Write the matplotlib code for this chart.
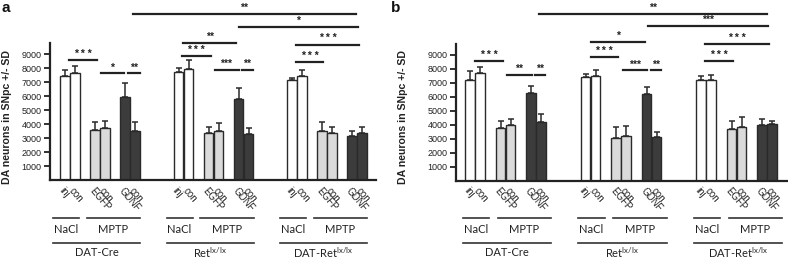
import matplotlib
matplotlib.use("Agg")
import matplotlib.pyplot as plt
import matplotlib.transforms as mtrans

plt.rcParams['font.family'] = ['Liberation Sans', 'DejaVu Sans']
plt.rcParams['mathtext.fontset'] = 'custom'
plt.rcParams['mathtext.rm'] = 'Lato'

# ---------------- data ----------------
genotypes = ["DAT-Cre", r"Ret$^{\mathrm{lx/lx}}$", r"DAT-Ret$^{\mathrm{lx/lx}}$"]
treatments = ["NaCl", "MPTP"]
bar_labels = ["inj", "con", "EGFP", "con", "GDNF", "con"]

a_mean = [7430, 7660, 3570, 3690, 5910, 3520,
          7740, 7910, 3340, 3500, 5760, 3290,
          7140, 7430, 3520, 3340, 3140, 3380]
a_sd = [430, 480, 550, 520, 1000, 600,
        240, 660, 430, 600, 790, 400,
        170, 430, 640, 420, 380, 430]

b_mean = [7160, 7690, 3750, 3980, 6250, 4220,
          7400, 7490, 3030, 3200, 6180, 3090,
          7210, 7210, 3680, 3820, 3980, 4050]
b_sd = [690, 400, 520, 430, 520, 550,
        240, 430, 790, 710, 500, 360,
        240, 360, 610, 710, 430, 240]

# significance annotations: (group0, rel0, group1, rel1, level, label)
a_sig = [(0, -0.1, 0, 2.7, 8570, "* * *"), (0, 3.07, 0, 5.4, 7620, "*"),
         (0, 5.8, 0, 7.0, 7620, "**"), (1, -0.13, 1, 2.7, 8880, "* * *"),
         (1, -0.03, 1, 5.27, 9820, "**"), (1, 3.1, 1, 5.5, 7860, "***"),
         (1, 5.8, 1, 6.9, 7860, "**"), (2, -0.1, 2, 2.63, 8450, "* * *"),
         (2, -0.1, 2, 6.2, 9690, "* * *"), (1, 5.5, 2, 6.07, 10980, "*"),
         (0, 6.27, 2, 5.9, 11910, "**")]
b_sig = [(0, 0.0, 0, 2.83, 8570, "* * *"), (0, 3.17, 0, 5.67, 7565, "**"),
         (0, 6.0, 0, 7.0, 7565, "**"), (1, 0.05, 1, 5.4, 9880, "*"),
         (1, 0.0, 1, 2.7, 8830, "* * *"), (1, 3.2, 1, 5.65, 7870, "***"),
         (1, 6.0, 1, 7.05, 7870, "**"), (2, -0.1, 2, 2.7, 8520, "* * *"),
         (2, -0.1, 2, 6.3, 9785, "* * *"), (1, 5.7, 2, 6.2, 11025, "***"),
         (0, 6.4, 2, 6.1, 11910, "**")]

# ---------------- layout ----------------
W, H = 788, 259
fig = plt.figure(figsize=(W / 100, H / 100), dpi=100)

layouts = {
    'a': dict(rect=[50 / W, 1 - 180 / H, 326 / W, 137 / H], gstep=11.35, pstep=3.0,
              xlim=(-2.0, 30.6), nacl=(-1.7, 0.9), mptp=(1.65, 7.0),
              ylab_x=-0.117, tag_x=2),
    'b': dict(rect=[455.7 / W, 1 - 180.5 / H, 331.3 / W, 137 / H], gstep=11.55, pstep=3.05,
              xlim=(-1.93, 31.2), nacl=(-1.25, 1.4), mptp=(2.25, 7.6),
              ylab_x=-0.145, tag_x=391),
}

fill_cols = ['white', 'white', '#dadada', '#dadada', '#3c3c3c', '#3c3c3c']
edge = '#2a2a2a'


def draw(key, means, sds, sig):
    L = layouts[key]
    ax = fig.add_axes(L['rect'])
    g_s, p_s = L['gstep'], L['pstep']
    xs = []
    for g in range(len(genotypes)):
        for p in range(3):
            c = g * g_s + p * p_s
            xs += [c - 0.5, c + 0.5]
    cols = fill_cols * len(genotypes)
    ax.bar(xs, means, width=0.95, color=cols, edgecolor=edge, linewidth=1.0, zorder=2)
    ax.errorbar(xs, means, yerr=[[0] * len(sds), sds], fmt='none', ecolor=edge,
                elinewidth=1.1, capsize=2.5, capthick=1.1, zorder=3)
    ax.set_xlim(*L['xlim'])
    ax.set_ylim(0, 9800)
    ax.set_yticks(range(1000, 10000, 1000))
    ax.tick_params(axis='y', labelsize=6.5, length=4, width=1.3, pad=2, colors='#222')
    ax.set_xticks(xs)
    ax.set_xticklabels(bar_labels * len(genotypes), rotation=-50, ha='left', va='top',
                       rotation_mode='anchor', fontsize=7, color='#222')
    ax.tick_params(axis='x', length=0, pad=4)
    for s in ['top', 'right']:
        ax.spines[s].set_visible(False)
    for s in ['left', 'bottom']:
        ax.spines[s].set_linewidth(1.6)
        ax.spines[s].set_color('#222')
    ax.set_ylabel("DA neurons in SNpc +/- SD", fontsize=7.6, fontweight='bold', color='#222')
    ax.yaxis.set_label_coords(L['ylab_x'], 0.46)

    # significance bars
    for g0, r0, g1, r1, lev, lab in sig:
        x0 = g0 * g_s + r0
        x1 = g1 * g_s + r1
        ax.plot([x0, x1], [lev, lev], color='#222', lw=1.6, clip_on=False, zorder=4)
        ax.text((x0 + x1) / 2, lev + 80, lab, ha='center', va='bottom', fontsize=7.5,
                fontweight='bold', color='#222', clip_on=False)

    # group annotations below axis
    tr = mtrans.blended_transform_factory(ax.transData, fig.transFigure)
    for g, name in enumerate(genotypes):
        base = g * g_s
        n0, n1 = L['nacl']
        m0, m1 = L['mptp']
        yl1 = 1 - 217.7 / H
        yl2 = 1 - 242.7 / H
        for (a0, a1), t in zip([(n0, n1), (m0, m1)], treatments):
            ax.plot([base + a0, base + a1], [yl1, yl1], color='#333', lw=1.2,
                    transform=tr, clip_on=False)
            ax.text(base + (a0 + a1) / 2, 1 - 229.5 / H, t, transform=tr, ha='center',
                    va='center', fontsize=8, family='Lato', color='#222')
        ax.plot([base + n0, base + m1], [yl2, yl2], color='#333', lw=1.2,
                transform=tr, clip_on=False)
        ax.text(base + (n0 + m1) / 2, 1 - 253.0 / H, name, transform=tr, ha='center',
                va='center', fontsize=8, family='Lato', color='#222')

    fig.text(L['tag_x'] / W, 1 - 1 / H, key, ha='left', va='top', fontsize=11,
             fontweight='bold', color='#111')
    return ax


draw('a', a_mean, a_sd, a_sig)
draw('b', b_mean, b_sd, b_sig)

fig.savefig("out.png", dpi=100)
